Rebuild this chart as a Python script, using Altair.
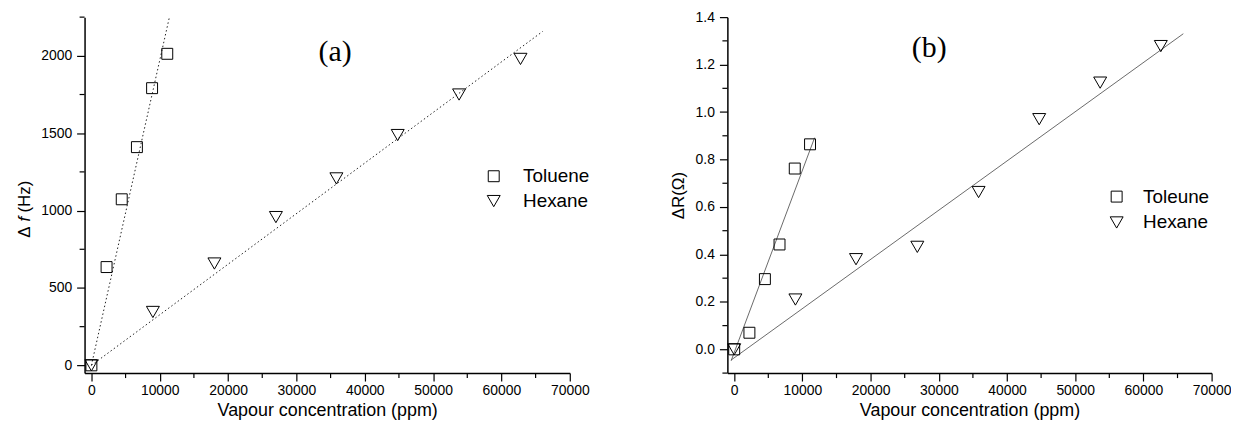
import altair as alt
import pandas as pd

FONT = "Liberation Sans"
SERIF = "Liberation Serif"

# ---------------- Panel (a): frequency shift ----------------
tol_a_x = [0, 2220, 4440, 6660, 8880, 11100]
tol_a_y = [0, 635, 1073, 1410, 1791, 2013]
hex_a_x = [0, 9000, 18000, 27000, 35850, 44820, 53800, 62790]
hex_a_y = [0, 345, 658, 958, 1208, 1488, 1750, 1980]
fit_a_tol_x = [0, 11430]
fit_a_tol_y = [0, 2253]
fit_a_hex_x = [0, 66040]
fit_a_hex_y = [0, 2158]

# ---------------- Panel (b): resistance change ----------------
tol_b_x = [0, 2230, 4500, 6645, 8880, 11120]
tol_b_y = [0.0, 0.07, 0.296, 0.442, 0.762, 0.864]
hex_b_x = [0, 8975, 17860, 26850, 35830, 44720, 53660, 62550]
hex_b_y = [0.0, 0.21, 0.38, 0.432, 0.663, 0.97, 1.124, 1.278]
fit_b_tol_x = [-450, 11790]
fit_b_tol_y = [-0.048, 0.892]
fit_b_hex_x = [-450, 65850]
fit_b_hex_y = [-0.045, 1.330]

series_a = ["Toluene", "Hexane"]
series_b = ["Toleune", "Hexane"]
panel_labels = ["(a)", "(b)"]

x_major = [0, 10000, 20000, 30000, 40000, 50000, 60000, 70000]
x_minor = [5000, 15000, 25000, 35000, 45000, 55000, 65000]
ya_major = [0, 500, 1000, 1500, 2000]
ya_minor = [250, 750, 1250, 1750, 2250]
yb_major = [0.0, 0.2, 0.4, 0.6, 0.8, 1.0, 1.2, 1.4]
yb_minor = [-0.1, 0.1, 0.3, 0.5, 0.7, 0.9, 1.1, 1.3]

W_A, W_B, H = 488, 487, 358


def x_axis():
    return alt.Axis(values=x_major, format="d", title="Vapour concentration (ppm)",
                    tickSize=8, tickWidth=1.2, tickColor="black", domainWidth=1.5,
                    domainColor="black", labelFont=FONT, labelFontSize=14, labelColor="black",
                    labelPadding=3, labelFlush=False, titleFont=FONT, titleFontSize=18,
                    titleFontWeight="normal", titleColor="black", titlePadding=4, grid=False)


def y_axis(values, fmt, title, pad):
    return alt.Axis(values=values, format=fmt, title=title,
                    tickSize=8, tickWidth=1.2, tickColor="black", domainWidth=1.5,
                    domainColor="black", labelFont=FONT, labelFontSize=14, labelColor="black",
                    labelPadding=5, labelFlush=False, titleFont=FONT, titleFontSize=17,
                    titleFontWeight="normal", titleColor="black", titlePadding=pad, grid=False)


def panel(tx, ty, hx, hy, ftx, fty, fhx, fhy, names, ydom, ymaj, ymin, yfmt, ytitle, ypad,
          width, dash, line_color, line_width, legx, legy, laboff, rowpad, label, labx, laby):
    xs = alt.Scale(domain=[-1000, 70000], nice=False, zero=False)
    ys = alt.Scale(domain=ydom, nice=False, zero=False)
    xa = x_axis()
    ya = y_axis(ymaj, yfmt, ytitle, ypad)
    X = alt.X("x:Q", scale=xs, axis=xa)
    Y = alt.Y("y:Q", scale=ys, axis=ya)

    pts_df = pd.DataFrame({"x": tx + hx, "y": ty + hy,
                           "s": [names[0]] * len(tx) + [names[1]] * len(hx)})
    leg = alt.Legend(title=None, orient="none", legendX=legx, legendY=legy,
                     labelFont=FONT, labelFontSize=19, labelColor="black",
                     labelOffset=laboff, rowPadding=rowpad, padding=0,
                     symbolStrokeColor="black", symbolFillColor="transparent",
                     symbolStrokeWidth=1, symbolOpacity=1)
    pts = alt.Chart(pts_df).mark_point(filled=False, opacity=1, strokeWidth=1,
                                       color="black").encode(
        x=X, y=Y,
        shape=alt.Shape("s:N", scale=alt.Scale(domain=names, range=["square", "triangle-down"]),
                        legend=leg),
        size=alt.Size("s:N", scale=alt.Scale(domain=names, range=[121, 170]), legend=leg),
    )

    fit_df = pd.DataFrame({"x": ftx + fhx, "y": fty + fhy,
                           "s": [names[0]] * len(ftx) + [names[1]] * len(fhx)})
    line_kw = dict(color=line_color, strokeWidth=line_width, clip=True)
    if dash:
        line_kw["strokeDash"] = dash
    fit = alt.Chart(fit_df).mark_line(**line_kw).encode(x=X, y=Y, detail="s:N")

    mx = alt.Chart(pd.DataFrame({"x": x_minor})).mark_rule(color="black", strokeWidth=1.2).encode(
        x=X, y=alt.value(H), y2=alt.value(H + 5))
    my = alt.Chart(pd.DataFrame({"y": ymin})).mark_rule(color="black", strokeWidth=1.2).encode(
        y=Y, x=alt.value(0), x2=alt.value(-5))

    lab = alt.Chart(pd.DataFrame({"t": [label]})).mark_text(
        font=SERIF, fontSize=30, color="black", align="center", baseline="middle").encode(
        text="t:N", x=alt.value(labx), y=alt.value(laby))

    return alt.layer(fit, pts, mx, my, lab).properties(width=width, height=H)


left = panel(tol_a_x, tol_a_y, hex_a_x, hex_a_y, fit_a_tol_x, fit_a_tol_y, fit_a_hex_x,
             fit_a_hex_y, series_a, [-50, 2250], ya_major, ya_minor, "d", "", 0,
             W_A, [1.5, 2.5], "#222222", 1, 402, 150.5, 20, 5, panel_labels[0], 252, 35)

# y title of panel (a) with italic f
ytitle_parts = ["Δ", "f", "(Hz)"]
ytitle_styles = ["normal", "italic", "normal"]
ytitle_pos = [222, 205.5, 196.5]
parts = []
for txt, sty, pos in zip(ytitle_parts, ytitle_styles, ytitle_pos):
    parts.append(alt.Chart(pd.DataFrame({"t": [txt]})).mark_text(
        font=FONT, fontSize=17, fontStyle=sty, color="black", angle=270,
        align="left", baseline="middle").encode(
        text="t:N", x=alt.value(-60), y=alt.value(pos)))
left = alt.layer(left, *parts)

right = panel(tol_b_x, tol_b_y, hex_b_x, hex_b_y, fit_b_tol_x, fit_b_tol_y, fit_b_hex_x,
              fit_b_hex_y, series_b, [-0.1, 1.4], yb_major, yb_minor, ".1f", "ΔR(Ω)", 8,
              W_B, None, "#444444", 0.8, 382, 171, 17, 6, panel_labels[1], 203, 31)

chart = alt.hconcat(left, right, spacing=79.5).properties(
    padding={"left": 8, "top": 1, "right": 0, "bottom": 0}
).configure_view(strokeWidth=0).resolve_scale(shape="independent", size="independent")

chart.save("out.html", embed_options={"renderer": "svg", "actions": False})
